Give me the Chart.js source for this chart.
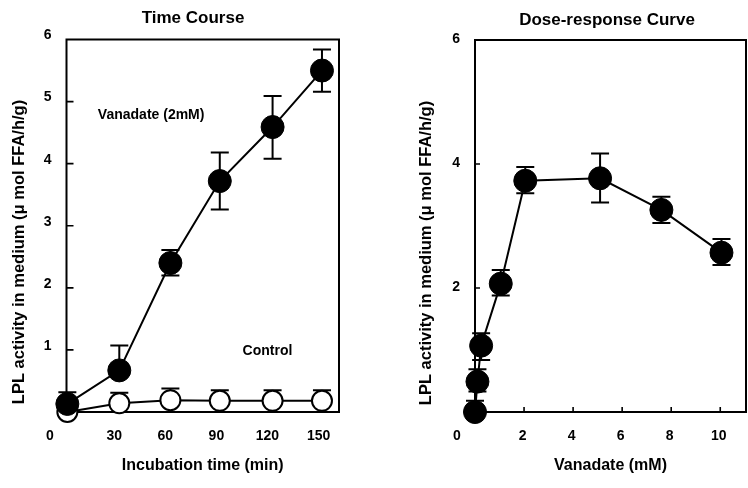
<!DOCTYPE html>
<html>
<head>
<meta charset="utf-8">
<script src="https://cdn.jsdelivr.net/npm/chart.js@4.4.0/dist/chart.umd.min.js"></script>
<style>
  html, body { margin: 0; padding: 0; background: #fff; }
  #wrap { position: relative; width: 748px; height: 488px; }
  canvas { position: absolute; top: 0; }
  #timeChart { left: 0; }
  #doseChart { left: 374px; }
</style>
</head>
<body>
<div id="wrap">
  <canvas id="timeChart" width="374" height="488"></canvas>
  <canvas id="doseChart" width="374" height="488"></canvas>
</div>
<script>
// Time course panel
const timeMinutes = [2.5, 33, 63, 92, 123, 152];
const vanadateActivity = [0.13, 0.67, 2.40, 3.72, 4.59, 5.50];
const vanadateErrUp = [0.19, 0.40, 0.21, 0.46, 0.50, 0.34];
const vanadateErrDown = [0, 0, 0.20, 0.46, 0.51, 0.34];
const controlActivity = [0, 0.14, 0.19, 0.18, 0.18, 0.18];
const controlErrUp = [0, 0.17, 0.19, 0.17, 0.17, 0.17];
const controlErrDown = [0, 0, 0, 0, 0, 0];
const timeXTicks = [30, 60, 90, 120, 150];
const timeYTicks = [1, 2, 3, 4, 5, 6];

// Dose-response panel
const doseMM = [0, 0.1, 0.25, 1.05, 2.05, 5.1, 7.6, 10.05];
const doseActivity = [0, 0.49, 1.07, 2.07, 3.73, 3.77, 3.26, 2.57];
const doseErrUp = [0.18, 0.2, 0.2, 0.22, 0.22, 0.4, 0.21, 0.22];
const doseErrDown = [0, 0.16, 0.23, 0.19, 0.2, 0.39, 0.21, 0.2];
const doseXTicks = [2, 4, 6, 8, 10];
const doseYTicks = [2, 4, 6];

const FONT = '"Liberation Sans", Arial, Helvetica, sans-serif';
const Y_TITLE = 'LPL activity in medium (\u03bc mol FFA/h/g)';
const LINE_W = 2;

function toPoints(xs, ys) {
  return xs.map((x, i) => ({ x, y: ys[i] }));
}

// error bars under the markers
const errorBarPlugin = {
  id: 'errorBars',
  beforeDatasetsDraw(chart) {
    const { ctx } = chart;
    const yScale = chart.scales.y;
    chart.data.datasets.forEach((ds, i) => {
      if (!ds.errUp) return;
      const meta = chart.getDatasetMeta(i);
      ctx.save();
      ctx.strokeStyle = '#000';
      ctx.lineWidth = LINE_W;
      meta.data.forEach((pt, j) => {
        const v = ds.data[j].y;
        const cap = 9;
        [[ds.errUp[j], 1], [ds.errDown[j], -1]].forEach(([err, dir]) => {
          if (!err) return;
          const yEnd = yScale.getPixelForValue(v + dir * err);
          ctx.beginPath();
          ctx.moveTo(pt.x, pt.y);
          ctx.lineTo(pt.x, yEnd);
          ctx.moveTo(pt.x - cap, yEnd);
          ctx.lineTo(pt.x + cap, yEnd);
          ctx.stroke();
        });
      });
      ctx.restore();
    });
  },
};

// closed box and small inward tick marks
const framePlugin = {
  id: 'frame',
  beforeDatasetsDraw(chart, args, opts) {
    const { ctx, chartArea: a } = chart;
    ctx.save();
    ctx.strokeStyle = '#000';
    ctx.lineWidth = LINE_W;
    ctx.strokeRect(a.left, a.top, a.right - a.left, a.bottom - a.top);
    const len = opts.len || 6;
    ctx.lineWidth = 1.6;
    ctx.beginPath();
    (opts.yTicks || []).forEach((v) => {
      const y = chart.scales.y.getPixelForValue(v);
      ctx.moveTo(a.left, y);
      ctx.lineTo(a.left + len, y);
    });
    (opts.xTicks || []).forEach((v) => {
      const x = chart.scales.x.getPixelForValue(v);
      ctx.moveTo(x, a.bottom);
      ctx.lineTo(x, a.bottom - len);
    });
    ctx.stroke();
    ctx.restore();
  },
};

// panel titles, rotated y title, corner zero and in-plot labels
const textPlugin = {
  id: 'panelText',
  afterDraw(chart, args, opts) {
    const { ctx } = chart;
    ctx.save();
    ctx.fillStyle = '#000';
    ctx.textAlign = 'center';
    ctx.textBaseline = 'middle';
    (opts.items || []).forEach((item) => {
      ctx.font = `bold ${item.size}px ${FONT}`;
      let x = item.x;
      let y = item.y;
      if (item.data) {
        x = chart.scales.x.getPixelForValue(item.x);
        y = chart.scales.y.getPixelForValue(item.y);
      }
      ctx.save();
      ctx.translate(x, y);
      if (item.rotate) ctx.rotate(item.rotate);
      ctx.fillText(item.text, 0, 0);
      ctx.restore();
    });
    ctx.restore();
  },
};

function makePanel(canvas, cfg) {
  const tickFont = { family: FONT, size: 14, weight: 'bold' };
  const titleFont = { family: FONT, size: 16, weight: 'bold' };
  return new Chart(canvas, {
    type: 'line',
    data: { datasets: cfg.datasets },
    options: {
      responsive: false,
      animation: false,
      devicePixelRatio: 1,
      events: [],
      layout: { padding: cfg.padding, autoPadding: false },
      plugins: {
        legend: { display: false },
        tooltip: { enabled: false },
        frame: cfg.frame,
        panelText: { items: cfg.texts },
      },
      scales: {
        x: {
          type: 'linear',
          min: cfg.xMin,
          max: cfg.xMax,
          afterBuildTicks: (scale) => { scale.ticks = cfg.xTicks.map((value) => ({ value })); },
          afterFit: (scale) => {
            scale.height = 76;
            scale.paddingLeft = 0;
            scale.paddingRight = 0;
          },
          grid: { display: false, drawTicks: false },
          border: { display: false },
          ticks: { font: tickFont, color: '#000', padding: 15.6, autoSkip: false, maxRotation: 0, labelOffset: cfg.xLabelOffset || 0 },
          title: { display: true, text: cfg.xTitle, font: titleFont, color: '#000', padding: { top: 0, bottom: 12.4 } },
        },
        y: {
          type: 'linear',
          min: 0,
          max: 6,
          afterBuildTicks: (scale) => { scale.ticks = cfg.yTicks.map((value) => ({ value })); },
          afterFit: (scale) => { scale.width = cfg.yWidth; },
          grid: { display: false, drawTicks: false },
          border: { display: false },
          ticks: { font: tickFont, color: '#000', padding: 15, labelOffset: cfg.yLabelOffset || 0 },
          title: { display: false },
        },
      },
    },
    plugins: [errorBarPlugin, framePlugin, textPlugin],
  });
}

function seriesStyle(fill, radius, borderWidth) {
  return {
    borderColor: '#000',
    borderWidth: LINE_W,
    pointRadius: radius,
    pointBackgroundColor: fill,
    pointBorderColor: '#000',
    pointBorderWidth: borderWidth,
    tension: 0,
    fill: false,
    clip: false,
  };
}

makePanel(document.getElementById('timeChart'), {
  datasets: [
    {
      label: 'Vanadate (2mM)',
      data: toPoints(timeMinutes, vanadateActivity),
      errUp: vanadateErrUp,
      errDown: vanadateErrDown,
      ...seriesStyle('#000', 11.5, 1),
    },
    {
      label: 'Control',
      data: toPoints(timeMinutes, controlActivity),
      errUp: controlErrUp,
      errDown: controlErrDown,
      ...seriesStyle('#fff', 10, 2),
    },
  ],
  padding: { left: 0, top: 39.5, right: 35, bottom: 0 },
  xMin: 2,
  xMax: 162,
  xTicks: timeXTicks,
  yTicks: timeYTicks,
  yLabelOffset: -4,
  yWidth: 66.5,
  xTitle: 'Incubation time (min)',
  frame: { yTicks: [1, 2, 3, 4, 5], len: 7 },
  texts: [
    { text: 'Time Course', x: 193, y: 18, size: 17 },
    { text: Y_TITLE, x: 19.5, y: 252, size: 16.5, rotate: -Math.PI / 2 },
    { text: '0', x: 50, y: 436, size: 14 },
    { text: 'Vanadate (2mM)', x: 51.7, y: 4.78, size: 14, data: true },
    { text: 'Control', x: 120, y: 0.98, size: 14, data: true },
  ],
});

makePanel(document.getElementById('doseChart'), {
  datasets: [
    {
      label: 'Vanadate',
      data: toPoints(doseMM, doseActivity),
      errUp: doseErrUp,
      errDown: doseErrDown,
      ...seriesStyle('#000', 11.5, 1),
    },
  ],
  padding: { left: 0, top: 40, right: 2, bottom: 0 },
  xMin: 0,
  xMax: 11.05,
  xTicks: doseXTicks,
  xLabelOffset: -1.5,
  yTicks: doseYTicks,
  yLabelOffset: -1,
  yWidth: 101,
  xTitle: 'Vanadate (mM)',
  frame: { yTicks: [2, 4], xTicks: doseXTicks, len: 5 },
  texts: [
    { text: 'Dose-response Curve', x: 233, y: 20, size: 17 },
    { text: Y_TITLE, x: 52.5, y: 253, size: 16.5, rotate: -Math.PI / 2 },
    { text: '0', x: 83, y: 436, size: 14 },
  ],
});
</script>
</body>
</html>
